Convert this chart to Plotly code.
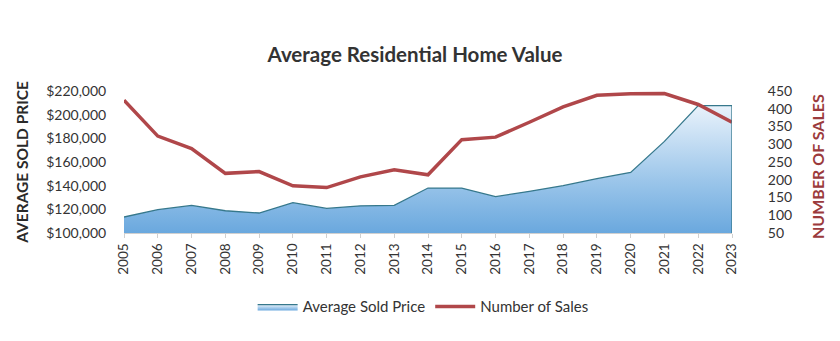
import plotly.graph_objects as go

years = list(range(2005, 2024))
avg_price = [113500, 119700, 123300, 118800, 116900, 125600, 120800, 123000, 123300,
             138000, 138000, 130700, 135200, 140000, 145900, 151200, 177400, 207600, 207600]
num_sales = [424, 323, 288, 218, 223, 183, 178, 208, 228, 214, 313, 320, 362, 405, 438,
             442, 443, 412, 362]
price_ticks = list(range(100000, 220001, 20000))
sales_ticks = list(range(50, 451, 50))

FONT = "Lato"
fig = go.Figure()
fig.add_trace(go.Scatter(
    x=years, y=avg_price, name="Average Sold Price", mode="lines",
    line=dict(color="#36788c", width=1.3),
    fill="tozeroy",
    fillgradient=dict(type="vertical",
                      colorscale=[[0, "#6aa8de"], [0.4, "#9cc6ea"], [1, "#eef5fc"]],
                      start=100000, stop=212000),
    yaxis="y"))
fig.add_trace(go.Scatter(
    x=years, y=num_sales, name="Number of Sales", mode="lines",
    line=dict(color="#b0474a", width=3.5), yaxis="y2"))

fig.add_shape(type="line", xref="x", yref="y", x0=years[-1], x1=years[-1],
              y0=price_ticks[0], y1=avg_price[-1], line=dict(color="#36788c", width=1.3))

fig.update_layout(
    width=840, height=341, paper_bgcolor="white", plot_bgcolor="white",
    margin=dict(l=124, r=108, t=91, b=108),
    font=dict(family=FONT, size=14, color="#3a3a3a"),
    title=dict(text="<b>Average Residential Home Value</b>", x=0.494, xref="container",
               y=1 - 55 / 341, yref="container", xanchor="center", yanchor="middle",
               font=dict(family=FONT, size=20.5, color="#333333")),
    xaxis=dict(range=[years[0], years[-1]], tickmode="array", tickvals=years,
               ticktext=[str(y) for y in years], tickangle=-90, showgrid=False,
               showline=True, linecolor="#d0d0d0", ticks="outside", ticklen=4,
               tickcolor="#d0d0d0", tickfont=dict(size=13.5, color="#333333")),
    yaxis=dict(range=[price_ticks[0], price_ticks[-1]], tickvals=price_ticks,
               tickformat="$,.0f", showgrid=False, zeroline=False,
               ticks="outside", ticklen=14, tickcolor="rgba(0,0,0,0)",
               tickfont=dict(size=14, color="#333333")),
    yaxis2=dict(range=[sales_ticks[0], sales_ticks[-1]], tickvals=sales_ticks,
                overlaying="y", side="right", showgrid=False, zeroline=False,
                ticks="outside", ticklen=32, tickcolor="rgba(0,0,0,0)",
                tickfont=dict(size=14, color="#333333")),
    showlegend=True,
    legend=dict(orientation="h", x=0.492, xanchor="center", y=-0.52, yanchor="middle",
                font=dict(size=15, color="#333333"), itemwidth=40),
)
fig.add_annotation(text="<b>AVERAGE SOLD PRICE</b>", xref="paper", yref="paper",
                   x=-0.168, y=0.5, textangle=-90, showarrow=False,
                   font=dict(size=15.5, color="#2a2a2a"), xanchor="center", yanchor="middle")
fig.add_annotation(text="<b>NUMBER OF SALES</b>", xref="paper", yref="paper",
                   x=1.141, y=0.47, textangle=-90, showarrow=False,
                   font=dict(size=16, color="#9b3a3c"), xanchor="center", yanchor="middle")

fig.write_html("out.html")
